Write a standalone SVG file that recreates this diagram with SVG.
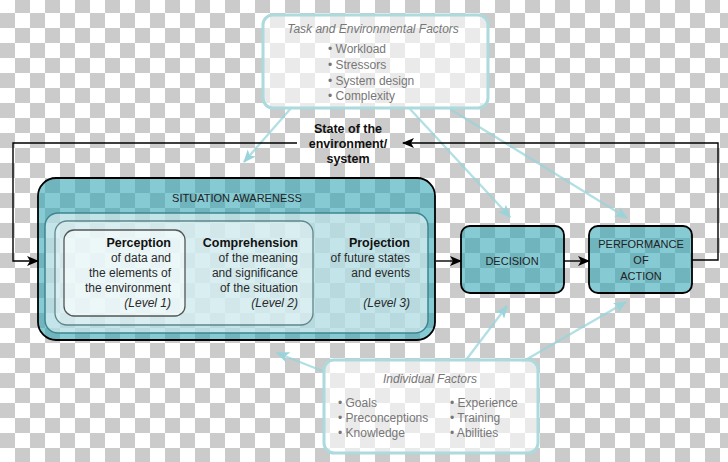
<svg xmlns="http://www.w3.org/2000/svg" width="728" height="462" viewBox="0 0 728 462">
<defs>
<pattern id="cb" x="0" y="-2" width="30" height="30" patternUnits="userSpaceOnUse">
<rect width="30" height="30" fill="#ffffff"/>
<rect x="15" y="0" width="15" height="15" fill="#cbcbcb"/>
<rect x="0" y="15" width="15" height="15" fill="#cbcbcb"/>
</pattern>
<marker id="ab" viewBox="0 0 12 10" refX="11" refY="5" markerWidth="12" markerHeight="10" markerUnits="userSpaceOnUse" orient="auto">
<path d="M0,0 L12,5 L0,10 L3,5 z" fill="#000"/>
</marker>
<marker id="at" viewBox="0 0 12 10" refX="11" refY="5" markerWidth="13" markerHeight="11" markerUnits="userSpaceOnUse" orient="auto">
<path d="M0,0 L12,5 L0,10 L3,5 z" fill="#98d4d9"/>
</marker>
<style>
text{font-family:"Liberation Sans",Arial,sans-serif;}
.t{font-size:12px;fill:#2a2a2a;}
.b{font-size:12.5px;font-weight:bold;fill:#111;}
.cap{font-size:11px;fill:#222;}
.it{font-style:italic;}
.fac{font-size:12px;fill:#777;}
.facb{fill:#ffffff;fill-opacity:0.6;stroke:#acdadd;stroke-width:3;}
.conn{fill:none;stroke:#000;stroke-width:1.4;}
.tl{fill:none;stroke:#98d4d9;stroke-opacity:0.75;stroke-width:2.3;}
.tbox{fill:#2fa5b5;fill-opacity:0.58;stroke:#000;stroke-width:1.8;}
</style>
</defs>
<rect width="728" height="462" fill="url(#cb)"/>

<g id="connectors">
<path class="tl" d="M292,107 L244,162" marker-end="url(#at)"/>
<path class="tl" d="M410,109 L510,217" marker-end="url(#at)"/>
<path class="tl" d="M450,109 L627,218" marker-end="url(#at)"/>
<path class="tl" d="M325,372 L277,353" marker-end="url(#at)"/>
<path class="tl" d="M466,360 L507,306" marker-end="url(#at)"/>
<path class="tl" d="M522,362 L626,302" marker-end="url(#at)"/>
<path class="conn" d="M297,143 L13,143 L13,261 L38,261" marker-end="url(#ab)"/>
<path class="conn" d="M692,260 L718,260 L718,143 L403,143" marker-end="url(#ab)"/>
<path class="conn" d="M436,261 L461,261" marker-end="url(#ab)"/>
<path class="conn" d="M564,261 L589,261" marker-end="url(#ab)"/>
<text class="b" text-anchor="middle" x="348" y="133">State of the</text>
<text class="b" text-anchor="middle" x="348" y="148">environment/</text>
<text class="b" text-anchor="middle" x="348" y="163">system</text>
</g>

<g id="task-factors">
<rect class="facb" x="263" y="15" width="225" height="93" rx="10"/>
<text class="fac it" text-anchor="middle" x="373" y="33">Task and Environmental Factors</text>
<text class="fac" x="328" y="53">• Workload</text>
<text class="fac" x="328" y="69">• Stressors</text>
<text class="fac" x="328" y="85">• System design</text>
<text class="fac" x="328" y="100">• Complexity</text>
</g>

<g id="individual-factors">
<rect class="facb" x="324" y="360" width="214" height="93" rx="10"/>
<text class="fac it" text-anchor="middle" x="430" y="383">Individual Factors</text>
<text class="fac" x="338" y="407">• Goals</text>
<text class="fac" x="338" y="422">• Preconceptions</text>
<text class="fac" x="338" y="437">• Knowledge</text>
<text class="fac" x="450" y="407">• Experience</text>
<text class="fac" x="450" y="422">• Training</text>
<text class="fac" x="450" y="437">• Abilities</text>
</g>

<g id="situation-awareness">
<rect class="tbox" x="38" y="178" width="397" height="162" rx="18" stroke-width="2.5"/>
<text class="cap" text-anchor="middle" x="237" y="202">SITUATION AWARENESS</text>
<rect x="45" y="213" width="383" height="120" rx="13" fill="#ffffff" fill-opacity="0.5" stroke="#3d8790" stroke-width="1.5"/>
<rect x="55" y="221" width="258" height="104" rx="12" fill="#ffffff" fill-opacity="0.35" stroke="#60868b" stroke-width="1.3"/>
<rect x="64" y="230" width="121" height="86" rx="10" fill="#ffffff" fill-opacity="0.5" stroke="#555" stroke-width="1.3"/>
<g id="perception">
<text class="b" text-anchor="end" x="171" y="247">Perception</text>
<text class="t" text-anchor="end" x="171" y="262">of data and</text>
<text class="t" text-anchor="end" x="171" y="277">the elements of</text>
<text class="t" text-anchor="end" x="171" y="292">the environment</text>
<text class="t it" text-anchor="end" x="171" y="307">(Level 1)</text>
</g>
<g id="comprehension">
<text class="b" text-anchor="end" x="298" y="247">Comprehension</text>
<text class="t" text-anchor="end" x="298" y="262">of the meaning</text>
<text class="t" text-anchor="end" x="298" y="277">and significance</text>
<text class="t" text-anchor="end" x="298" y="292">of the situation</text>
<text class="t it" text-anchor="end" x="298" y="307">(Level 2)</text>
</g>
<g id="projection">
<text class="b" text-anchor="end" x="410" y="247">Projection</text>
<text class="t" text-anchor="end" x="410" y="262">of future states</text>
<text class="t" text-anchor="end" x="410" y="277">and events</text>
<text class="t it" text-anchor="end" x="410" y="307">(Level 3)</text>
</g>
</g>

<g id="decision">
<rect class="tbox" x="461" y="226" width="103" height="67" rx="9"/>
<text class="cap" text-anchor="middle" x="512" y="265">DECISION</text>
</g>

<g id="performance">
<rect class="tbox" x="589" y="226" width="103" height="67" rx="9"/>
<text class="cap" text-anchor="middle" x="641" y="248">PERFORMANCE</text>
<text class="cap" text-anchor="middle" x="641" y="264">OF</text>
<text class="cap" text-anchor="middle" x="641" y="280">ACTION</text>
</g>
</svg>
